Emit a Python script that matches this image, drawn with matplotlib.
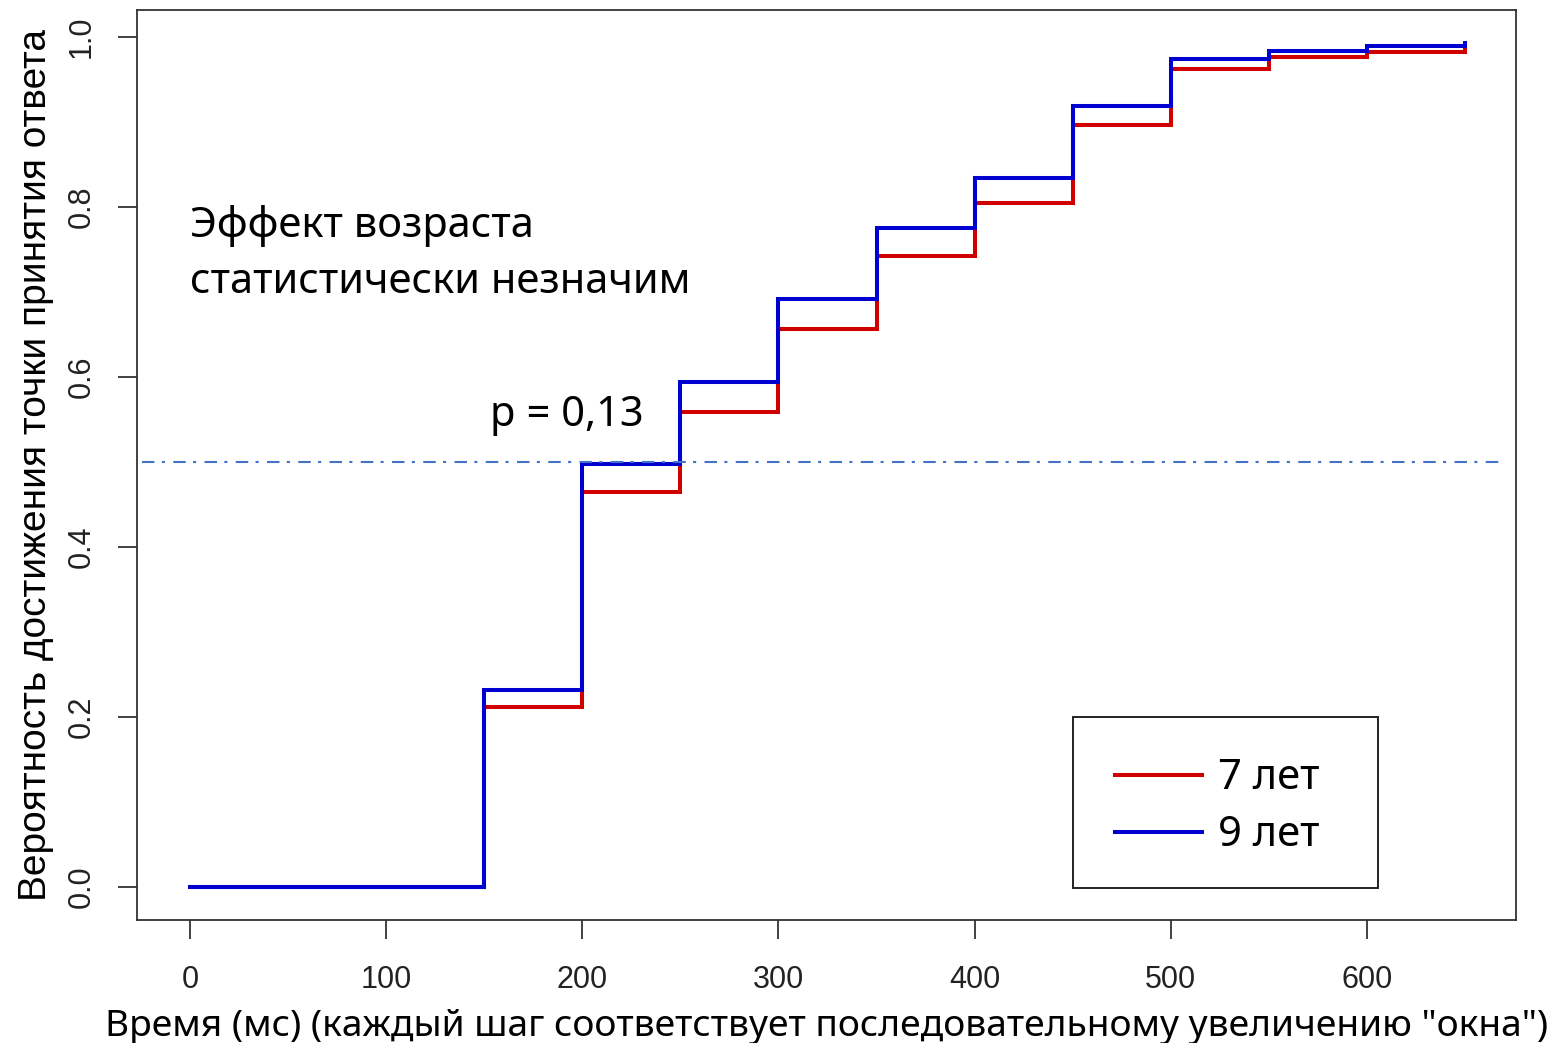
import matplotlib
matplotlib.use("Agg")
import matplotlib.pyplot as plt
from matplotlib.patches import Rectangle

# step times (ms) and cumulative probability for each age group
times = [0, 150, 200, 250, 300, 350, 400, 450, 500, 550, 600, 650]
p_7 = [0.0, 0.212, 0.465, 0.559, 0.657, 0.742, 0.805, 0.897, 0.962, 0.977, 0.983, 0.987]
p_9 = [0.0, 0.232, 0.498, 0.594, 0.692, 0.775, 0.834, 0.919, 0.974, 0.984, 0.990, 0.993]
labels = ["7 лет", "9 лет"]
colors = ["#D00000", "#0000D0"]

xticks = [0, 100, 200, 300, 400, 500, 600]
yticks = [0.0, 0.2, 0.4, 0.6, 0.8, 1.0]

txt_font = ["Noto Sans", "DejaVu Sans"]
r_font = ["Liberation Sans", "DejaVu Sans"]

fig = plt.figure(figsize=(15.53, 10.43), dpi=100)
ax = fig.add_axes([0.0882, 0.1179, 0.888, 0.8725])

for p, lab, c in zip([p_7, p_9], labels, colors):
    ax.step(times, p, where="post", color=c, lw=2.9, label=lab,
            solid_joinstyle="miter")

ax.axhline(0.5, xmin=0.004, xmax=0.988, color="#4472C4", lw=1.5,
           linestyle=(0, (6, 3.5, 1.5, 4)))

ax.set_xlim(-27, 676)
ax.set_ylim(-0.039, 1.032)
ax.set_xticks(xticks)
ax.set_xticklabels([str(t) for t in xticks], family=r_font, fontsize=22, color="#222222")
ax.set_yticks(yticks)
ax.set_yticklabels(["%.1f" % t for t in yticks], family=r_font, fontsize=22,
                   color="#222222", rotation=90, va="center")
ax.tick_params(direction="out", length=13.7, width=1.3, color="#333333")
ax.tick_params(axis="x", pad=18.5)
ax.tick_params(axis="y", pad=15)
for s in ax.spines.values():
    s.set_linewidth(1.3)
    s.set_color("#333333")

ax.set_xlabel('Время (мс) (каждый шаг соответствует последовательному увеличению "окна")',
              family=txt_font, fontsize=26.8, labelpad=10)
ax.set_ylabel("Вероятность достижения точки принятия ответа",
              family=r_font, fontsize=28, labelpad=9.5)

ax.text(0.0385, 0.732, "Эффект возраста\nстатистически незначим", transform=ax.transAxes,
        family=txt_font, fontsize=30, va="center", ha="left", linespacing=1.45)
ax.text(0.256, 0.555, "p = 0,13", transform=ax.transAxes,
        family=txt_font, fontsize=30, va="center", ha="left")

# legend box (R style, fixed size)
ax.add_patch(Rectangle((0.6787, 0.0352), 0.2212, 0.1879, transform=ax.transAxes,
                       fill=False, edgecolor="#222222", lw=1.4, zorder=5))
leg = ax.legend(loc="center left", bbox_to_anchor=(0.7092, 0.1246), frameon=False,
                prop={"family": txt_font, "size": 30}, handlelength=2.09,
                handletextpad=0.38, labelspacing=0.36, borderpad=0.0,
                borderaxespad=0.0)
leg.set_zorder(6)

fig.savefig("out.png", dpi=100)
